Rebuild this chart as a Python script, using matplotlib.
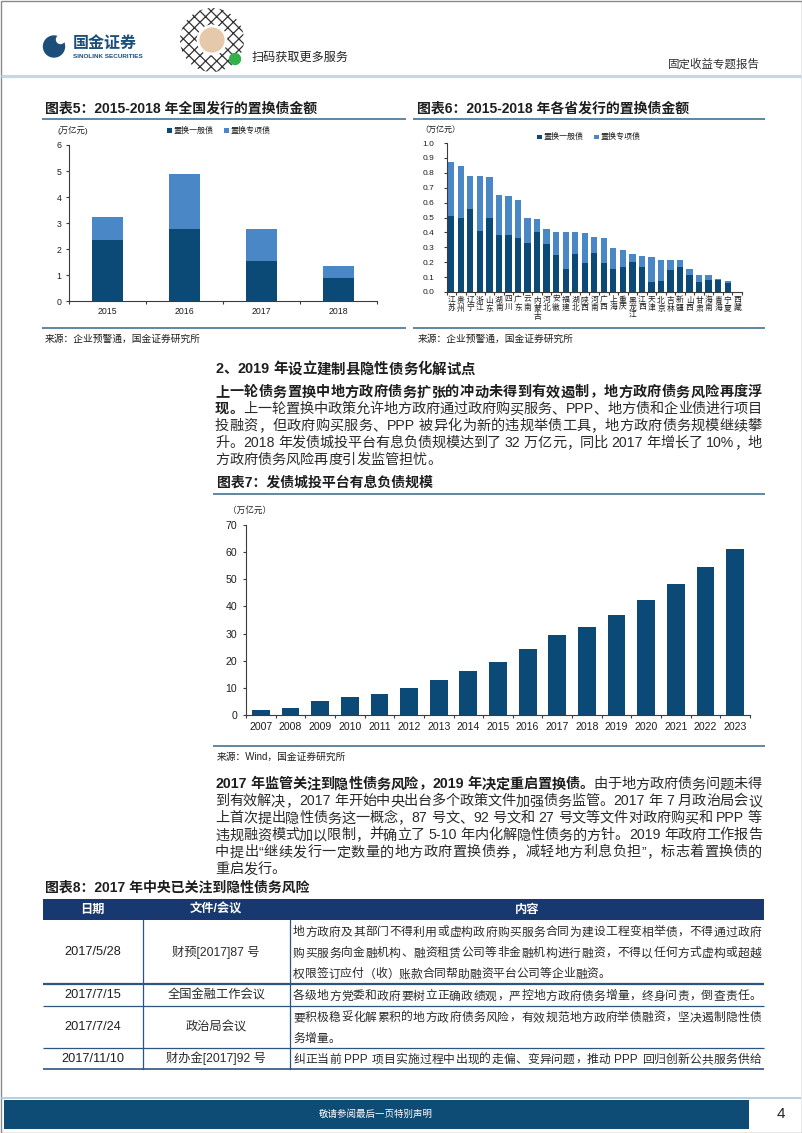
import re
import matplotlib
matplotlib.use('Agg')
import matplotlib.pyplot as plt
from matplotlib.patches import Rectangle, Circle
import numpy as np

plt.rcParams['font.family'] = ['Liberation Sans', 'Noto Sans CJK SC']
plt.rcParams['hatch.linewidth'] = 0.9

W, H = 802, 1133
DARK = '#0b4a76'
LIGHT = '#4a87c7'
NAVY = '#17396f'
RULE = '#33678a'
TXT = '#1e1e1e'
BODY = '#2a2a2a'
AX = '#3c3c3c'

# 图表5: 全国置换债 (万亿元)
years5 = ['2015', '2016', '2017', '2018']
general5 = [2.35, 2.76, 1.56, 0.88]
special5 = [0.88, 2.11, 1.20, 0.46]

# 图表6: 各省置换债 (万亿元)
provinces = ['江苏', '贵州', '辽宁', '浙江', '山东', '湖南', '四川', '广东', '云南', '内蒙古',
             '河北', '安徽', '福建', '湖北', '陕西', '河南', '广西', '上海', '重庆', '黑龙江',
             '江西', '天津', '北京', '吉林', '新疆', '山西', '甘肃', '海南', '青海', '宁夏', '西藏']
general6 = [0.51, 0.50, 0.56, 0.41, 0.50, 0.385, 0.385, 0.365, 0.33, 0.40,
            0.32, 0.25, 0.155, 0.255, 0.195, 0.265, 0.195, 0.155, 0.17, 0.20,
            0.17, 0.065, 0.075, 0.145, 0.165, 0.115, 0.07, 0.08, 0.08, 0.058, 0.0]
special6 = [0.365, 0.345, 0.22, 0.37, 0.27, 0.265, 0.26, 0.25, 0.17, 0.09,
            0.10, 0.155, 0.245, 0.145, 0.20, 0.105, 0.165, 0.137, 0.11, 0.058,
            0.07, 0.17, 0.143, 0.073, 0.05, 0.042, 0.043, 0.031, 0.008, 0.018, 0.0]

# 图表7: 发债城投平台有息负债 (万亿元)
years7 = ['2007', '2008', '2009', '2010', '2011', '2012', '2013', '2014', '2015',
          '2016', '2017', '2018', '2019', '2020', '2021', '2022', '2023']
debt7 = [1.8, 2.7, 5.1, 6.6, 7.7, 10.1, 12.9, 16.3, 19.7, 24.4, 29.3, 32.3,
         36.7, 42.4, 48.4, 54.4, 61.2]

# 图表8 table
t_header = ['日期', '文件/会议', '内容']
t_dates = ['2017/5/28', '2017/7/15', '2017/7/24', '2017/11/10']
t_docs = ['财预[2017]87 号', '全国金融工作会议', '政治局会议', '财办金[2017]92 号']
t_content = [
    ['地方政府及其部门不得利用或虚构政府购买服务合同为建设工程变相举债，不得通过政府',
     '购买服务向金融机构、融资租赁公司等非金融机构进行融资，不得以任何方式虚构或超越',
     '权限签订应付（收）账款合同帮助融资平台公司等企业融资。'],
    ['各级地方党委和政府要树立正确政绩观，严控地方政府债务增量，终身问责，倒查责任。'],
    ['要积极稳妥化解累积的地方政府债务风险，有效规范地方政府举债融资，坚决遏制隐性债',
     '务增量。'],
    ['纠正当前 PPP 项目实施过程中出现的走偏、变异问题，推动 PPP 回归创新公共服务供给'],
]

# body text: (segments of (text, weight)), justified?
para1 = [
    ([('上一轮债务置换中地方政府债务扩张的冲动未得到有效遏制，地方政府债务风险再度浮', 'bold')], True),
    ([('现。', 'bold'), ('上一轮置换中政策允许地方政府通过政府购买服务、PPP、地方债和企业债进行项目', 'normal')], True),
    ([('投融资，但政府购买服务、PPP 被异化为新的违规举债工具，地方政府债务规模继续攀', 'normal')], True),
    ([('升。2018 年发债城投平台有息负债规模达到了 32 万亿元，同比 2017 年增长了 10%，地', 'normal')], True),
    ([('方政府债务风险再度引发监管担忧。', 'normal')], False),
]
para2 = [
    ([('2017 年监管关注到隐性债务风险，2019 年决定重启置换债。', 'bold'), ('由于地方政府债务问题未得', 'normal')], True),
    ([('到有效解决，2017 年开始中央出台多个政策文件加强债务监管。2017 年 7 月政治局会议', 'normal')], True),
    ([('上首次提出隐性债务这一概念，87 号文、92 号文和 27 号文等文件对政府购买和 PPP 等', 'normal')], True),
    ([('违规融资模式加以限制，并确立了 5-10 年内化解隐性债务的方针。2019 年政府工作报告', 'normal')], True),
    ([('中提出“继续发行一定数量的地方政府置换债券，减轻地方利息负担”，标志着置换债的', 'normal')], True),
    ([('重启发行。', 'normal')], False),
]

fig = plt.figure(figsize=(W / 100, H / 100), dpi=100)
ov = fig.add_axes([0, 0, 1, 1])
ov.set_xlim(0, W)
ov.set_ylim(H, 0)
ov.axis('off')
R = fig.canvas.get_renderer()


def txt(x, y, s, size, color=TXT, **kw):
    return ov.text(x, y, s, fontsize=size, color=color, va='center', **kw)


def hline(y, x0, x1, color=RULE, lw=1.1):
    ov.plot([x0, x1], [y, y], color=color, lw=lw, solid_capstyle='butt')


_cache = {}


def adv(tk, size, weight):
    key = (tk, size, weight)
    if key not in _cache:
        def w(s):
            t = ov.text(0, 0, s, fontsize=size, fontweight=weight)
            v = t.get_window_extent(renderer=R).width
            t.remove()
            return v
        _cache[key] = w('国' + tk + '国') - w('国国')
    return _cache[key]


def put_line(x0, yc, segs, size, x1=None):
    items = []
    for s, wt in segs:
        for tk in re.findall(r"[A-Za-z0-9./%\[\]\-]+|\s|.", s):
            items.append((tk, wt))
    ws = [adv(tk, size, wt) for tk, wt in items]
    gap = 0
    if x1 is not None and len(items) > 1:
        gap = (x1 - x0 - sum(ws)) / (len(items) - 1)
    x = x0
    base = yc + 0.38 * size * 100 / 72
    for (tk, wt), wd in zip(items, ws):
        if not tk.isspace():
            ov.text(x, base, tk, fontsize=size, fontweight=wt,
                    color=TXT if wt == 'bold' else BODY, ha='left', va='baseline')
        x += wd + gap


def px_axes(x0, y0, x1, y1):
    ax = fig.add_axes([x0 / W, 1 - y1 / H, (x1 - x0) / W, (y1 - y0) / H])
    ax.patch.set_alpha(0)
    for s in ['top', 'right']:
        ax.spines[s].set_visible(False)
    for s in ['left', 'bottom']:
        ax.spines[s].set_color(AX)
        ax.spines[s].set_linewidth(0.8)
    return ax


def cat_axis(ax, n, labels, size, pad):
    ax.set_xlim(-0.5, n - 0.5)
    ax.set_xticks(range(n))
    ax.set_xticklabels(labels, fontsize=size, linespacing=1.0)
    ax.set_xticks(np.arange(-0.5, n, 1.0), minor=True)
    ax.tick_params(axis='x', which='major', length=0, pad=pad, colors=TXT)
    ax.tick_params(axis='x', which='minor', length=2.5, width=0.8, color=AX, direction='out')


# ---------- page frame / header / footer ----------
ov.add_patch(Rectangle((0.5, 0.5), W - 1, H - 1, fill=False, ec='#8a8a8a', lw=1))
ov.add_patch(Circle((54, 46.5), 10.5, color='#1d4e7a'))
ov.add_patch(Circle((60.5, 39.5), 4, color='white'))
txt(73, 43, '国金证券', 11.5, color='#1d4e7a', fontweight='bold')
txt(73, 56, 'SINOLINK SECURITIES', 4.6, color='#1d4e7a', fontweight='bold')
ov.add_patch(Circle((212, 40), 32, fc='white', ec='#333333', hatch='xxx', lw=0))
ov.add_patch(Circle((212, 40), 14, fc='#e6c9aa', ec='white', lw=2))
ov.add_patch(Circle((235, 59), 5.5, color='#34b04a'))
txt(252, 58, '扫码获取更多服务', 8.7, color='#222222')
txt(760, 65, '固定收益专题报告', 8.3, color='#333333', ha='right')
hline(75.5, 1, W - 1, color='#c3d8e2', lw=2.3)

hline(1098, 1, W - 1, color='#a9c8d8', lw=1.2)
ov.add_patch(Rectangle((4, 1100), 745, 29, color='#0e4c75', lw=0))
txt(376, 1114.5, '敬请参阅最后一页特别声明', 6.8, color='white', ha='center')
txt(781, 1114.5, '4', 11, color='#222222', ha='center')

# ---------- 图表5 ----------
txt(45, 109, '图表5：2015-2018 年全国发行的置换债金额', 10, fontweight='bold')
hline(119, 42, 406)
hline(328, 42, 406)
txt(45, 338.5, '来源：企业预警通，国金证券研究所', 7)
txt(58, 130.5, '(万亿元)', 6)
ov.add_patch(Rectangle((167, 128), 4.5, 4.5, color=DARK, lw=0))
txt(173.5, 130.5, '置换一般债', 5.8)
ov.add_patch(Rectangle((224, 128), 4.5, 4.5, color=LIGHT, lw=0))
txt(230.5, 130.5, '置换专项债', 5.8)

ax5 = px_axes(69.3, 145, 376.7, 301.3)
x5 = np.arange(len(years5))
ax5.bar(x5, general5, 0.4, color=DARK)
ax5.bar(x5, special5, 0.4, bottom=general5, color=LIGHT)
ax5.set_ylim(0, 6)
ax5.set_yticks(range(0, 7))
ax5.tick_params(axis='y', length=2.5, width=0.8, color=AX, labelsize=6.3, pad=3, labelcolor=TXT)
cat_axis(ax5, len(years5), years5, 6.3, 4.3)

# ---------- 图表6 ----------
txt(417, 109, '图表6：2015-2018 年各省发行的置换债金额', 10, fontweight='bold')
hline(119, 413, 765)
hline(328, 413, 765)
txt(418, 338.5, '来源：企业预警通，国金证券研究所', 7)
txt(420, 130.5, '（万亿元）', 5.8)
ov.add_patch(Rectangle((537, 134.5), 4.5, 4.5, color=DARK, lw=0))
txt(543.5, 137, '置换一般债', 5.8)
ov.add_patch(Rectangle((594, 134.5), 4.5, 4.5, color=LIGHT, lw=0))
txt(600.5, 137, '置换专项债', 5.8)

ax6 = px_axes(446.5, 143, 742, 292)
x6 = np.arange(len(provinces))
ax6.bar(x6, general6, 0.66, color=DARK)
ax6.bar(x6, special6, 0.66, bottom=general6, color=LIGHT)
ax6.set_ylim(0, 1.0)
ax6.set_yticks(np.arange(0, 1.01, 0.1))
ax6.set_yticklabels(['%.1f' % v for v in np.arange(0, 1.01, 0.1)])
ax6.tick_params(axis='y', length=2.5, width=0.8, color=AX, labelsize=6, pad=6, labelcolor=TXT)
cat_axis(ax6, len(provinces), ['\n'.join(p) for p in provinces], 5.6, 3.4)

# ---------- section text ----------
put_line(215, 368, [('2、2019 年设立建制县隐性债务化解试点', 'bold')], 10.4)
for i, (segs, just) in enumerate(para1):
    put_line(215, 391 + 16.8 * i, segs, 10.2, x1=762 if just else None)

# ---------- 图表7 ----------
txt(217, 482.5, '图表7：发债城投平台有息负债规模', 10, fontweight='bold')
hline(494, 213, 765)
hline(746, 213, 765)
txt(217, 757, '来源：Wind，国金证券研究所', 7)
txt(228, 510.5, '（万亿元）', 6.2)

ax7 = px_axes(246, 525, 750, 715)
x7 = np.arange(len(years7))
ax7.bar(x7, debt7, 0.6, color=DARK)
ax7.set_ylim(0, 70)
ax7.set_yticks(range(0, 71, 10))
ax7.tick_params(axis='y', length=2.5, width=0.8, color=AX, labelsize=7.6, pad=4, labelcolor=TXT)
cat_axis(ax7, len(years7), years7, 7.6, 5)

for i, (segs, just) in enumerate(para2):
    put_line(215, 783 + 17 * i, segs, 10.2, x1=762 if just else None)

# ---------- 图表8 table ----------
txt(45, 888, '图表8：2017 年中央已关注到隐性债务风险', 10, fontweight='bold')
tx0, tx1 = 43, 764
c1, c2 = 142.5, 290
ov.add_patch(Rectangle((tx0, 899), tx1 - tx0, 21, color=NAVY, lw=0))
for cx, s in zip([(tx0 + c1) / 2, (c1 + c2) / 2, (c2 + tx1) / 2], t_header):
    txt(cx, 909.5, s, 8.8, color='white', ha='center', fontweight='bold')

row_edges = [920, 984, 1006, 1048, 1069]
for k in range(len(t_dates)):
    top, bot = row_edges[k], row_edges[k + 1]
    mid = (top + bot) / 2
    txt((tx0 + c1) / 2, mid, t_dates[k], 9.2, ha='center')
    txt((c1 + c2) / 2, mid, t_docs[k], 8.8, color=BODY, ha='center')
    lines = t_content[k]
    n = len(lines)
    for j, s in enumerate(lines):
        yc = mid + (j - (n - 1) / 2) * 21
        full = j < n - 1 or n == 1
        put_line(293, yc, [(s, 'normal')], 8.5, x1=761 if full else None)

hline(984, tx0, tx1, color='#2d5580', lw=1.6)
hline(1006, tx0, tx1, color='#2d5580', lw=0.9)
hline(1048, tx0, tx1, color='#2d5580', lw=0.9)
hline(1069, tx0, tx1, color='#2d5580', lw=1.2)
for cx in (c1, c2):
    ov.plot([cx, cx], [920, 1069], color='#2d5580', lw=0.9)

fig.savefig('out.png', dpi=100)
